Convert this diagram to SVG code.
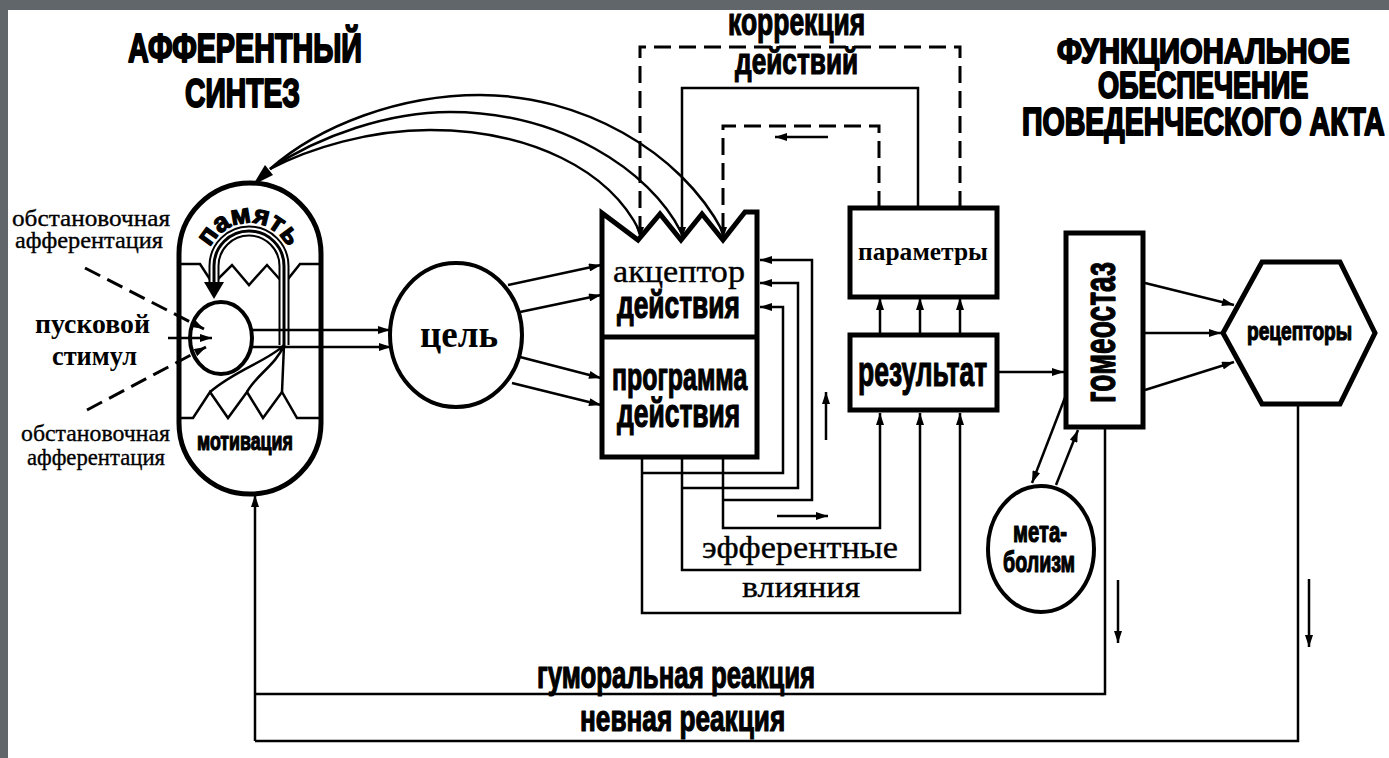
<svg xmlns="http://www.w3.org/2000/svg" width="1389" height="758" viewBox="0 0 1389 758">
<defs>
<style>
.cb{font-family:"Liberation Sans",Arial,sans-serif;font-weight:bold;fill:#000;stroke:#000;stroke-width:1.2;stroke-linejoin:round}
.tt{font-family:"Liberation Sans",Arial,sans-serif;font-weight:bold;fill:#000;stroke:#000;stroke-width:2;stroke-linejoin:round}
.sr{font-family:"Liberation Serif","DejaVu Serif",serif;fill:#000;stroke:#000;stroke-width:0.35}
.sb{font-family:"Liberation Serif","DejaVu Serif",serif;font-weight:bold;fill:#000}
.box{fill:#fff;stroke:#000;stroke-width:5;stroke-linejoin:miter}
.ln{fill:none;stroke:#000;stroke-width:2.5}
.dl{fill:none;stroke:#000;stroke-width:3;stroke-dasharray:17 8}
.ar{marker-end:url(#ah)}
</style>
<marker id="ah" viewBox="0 0 12 8" refX="12" refY="4" markerWidth="13" markerHeight="8" markerUnits="userSpaceOnUse" orient="auto">
<path d="M0,0 L12,4 L0,8 Z" fill="#000"/>
</marker>
</defs>
<rect x="0" y="0" width="1389" height="758" fill="#61666a"/>
<rect x="8" y="10" width="1381" height="748" fill="#fff"/>

<g id="titles">
<text class="tt" transform="translate(128,62) scale(0.72,1)" font-size="40" textLength="325" lengthAdjust="spacingAndGlyphs">АФФЕРЕНТНЫЙ</text>
<text class="tt" transform="translate(185,107) scale(0.71,1)" font-size="40" textLength="162" lengthAdjust="spacingAndGlyphs">СИНТЕЗ</text>
<text class="tt" transform="translate(1057,63) scale(0.8,1)" font-size="36" textLength="366" lengthAdjust="spacingAndGlyphs">ФУНКЦИОНАЛЬНОЕ</text>
<text class="tt" transform="translate(1098,98) scale(0.73,1)" font-size="36" textLength="288" lengthAdjust="spacingAndGlyphs">ОБЕСПЕЧЕНИЕ</text>
<text class="tt" transform="translate(1022,135) scale(0.74,1)" font-size="38" textLength="490" lengthAdjust="spacingAndGlyphs">ПОВЕДЕНЧЕСКОГО АКТА</text>
</g>

<g id="labels">
<text class="sr" x="12" y="226" font-size="23" textLength="158" lengthAdjust="spacingAndGlyphs">обстановочная</text>
<text class="sr" x="15" y="248" font-size="23" textLength="148" lengthAdjust="spacingAndGlyphs">афферентация</text>
<text class="sb" x="35" y="333" font-size="27" textLength="115" lengthAdjust="spacingAndGlyphs">пусковой</text>
<text class="sb" x="52" y="365" font-size="27" textLength="85" lengthAdjust="spacingAndGlyphs">стимул</text>
<text class="sr" x="21" y="441" font-size="23" textLength="149" lengthAdjust="spacingAndGlyphs">обстановочная</text>
<text class="sr" x="27" y="465" font-size="23" textLength="138" lengthAdjust="spacingAndGlyphs">афферентация</text>
<text class="cb" transform="translate(728,35) scale(0.69,1)" font-size="38" textLength="199" lengthAdjust="spacingAndGlyphs">коррекция</text>
<text class="cb" transform="translate(735,74) scale(0.72,1)" font-size="37" textLength="171" lengthAdjust="spacingAndGlyphs">действий</text>
<text class="sr" x="702" y="558" font-size="32" textLength="196" lengthAdjust="spacingAndGlyphs">эфферентные</text>
<text class="sr" x="742" y="597" font-size="30" textLength="118" lengthAdjust="spacingAndGlyphs">влияния</text>
<text class="cb" transform="translate(537,688) scale(0.68,1)" font-size="38" textLength="409" lengthAdjust="spacingAndGlyphs">гуморальная реакция</text>
<text class="cb" transform="translate(580,731) scale(0.71,1)" font-size="37" textLength="289" lengthAdjust="spacingAndGlyphs">невная реакция</text>
</g>

<g id="afferent-synthesis">
<path class="box" stroke-width="4" d="M179,254 A71,71 0 0 1 321,254 L321,423 A71,71 0 0 1 179,423 Z"/>
<path class="ln" d="M180,264 L200,264 L213,284 L232,265 L249,285 L267,265 L284,284 L300,264 L321,264"/>
<path class="ln" d="M180,418 L193,418 L210,392 L228,418 L247,392 L263,418 L282,392 L297,418 L321,418"/>
<ellipse cx="221" cy="338" rx="31" ry="36" fill="#fff" stroke="#000" stroke-width="4"/>
<path d="M214,284 L214,266 A35,35 0 0 1 284,266 L284,345" fill="none" stroke="#000" stroke-width="11"/>
<path d="M214,286 L214,266 A35,35 0 0 1 284,266 L284,346" fill="none" stroke="#fff" stroke-width="7"/>
<path d="M214,286 L214,266 A35,35 0 0 1 284,266 L284,346" fill="none" stroke="#000" stroke-width="3"/>
<polygon points="204,282 224,282 214,299" fill="#000"/>
<path class="ln" d="M284,345 C270,360 235,370 210,392 M284,345 C276,365 256,375 247,392 M284,345 L282,392"/>
<path id="pamArc" d="M206,266 A43,43 0 0 1 292,266" fill="none"/>
<text class="cb" font-size="27"><textPath href="#pamArc" startOffset="50%" text-anchor="middle">память</textPath></text>
<text class="cb" transform="translate(197,450) scale(0.72,1)" font-size="25" textLength="133" lengthAdjust="spacingAndGlyphs">мотивация</text>
</g>

<g id="goal">
<ellipse cx="456" cy="335" rx="66" ry="72" fill="#fff" stroke="#000" stroke-width="4"/>
<text class="sb" x="420" y="347" font-size="38" textLength="78" lengthAdjust="spacingAndGlyphs">цель</text>
</g>

<g id="acceptor-program">
<path class="box" d="M602,213 L638,240 L660,214 L681,240 L702,214 L723,240 L745,212 L757,212 L757,457 L602,457 Z"/>
<line x1="602" y1="337" x2="757" y2="337" stroke="#000" stroke-width="5"/>
<text class="sr" x="613" y="282" font-size="31" stroke-width="0.7" textLength="132" lengthAdjust="spacingAndGlyphs">акцептор</text>
<text class="cb" transform="translate(617,318) scale(0.71,1)" font-size="38" textLength="173" lengthAdjust="spacingAndGlyphs">действия</text>
<text class="cb" transform="translate(612,390) scale(0.66,1)" font-size="38" textLength="205" lengthAdjust="spacingAndGlyphs">программа</text>
<text class="cb" transform="translate(617,427) scale(0.67,1)" font-size="40" textLength="184" lengthAdjust="spacingAndGlyphs">действия</text>
</g>

<g id="parameters">
<rect class="box" x="850" y="208" width="147" height="89"/>
<text class="sb" x="858" y="260" font-size="26" textLength="130" lengthAdjust="spacingAndGlyphs">параметры</text>
</g>

<g id="result">
<rect class="box" x="850" y="335" width="147" height="75"/>
<text class="cb" transform="translate(858,386) scale(0.63,1)" font-size="42" textLength="205" lengthAdjust="spacingAndGlyphs">результат</text>
</g>

<g id="homeostasis">
<rect class="box" x="1066" y="233" width="77" height="194"/>
<text class="cb" transform="translate(1115,403) rotate(-90) scale(0.65,1)" x="0" y="0" font-size="44" textLength="217" lengthAdjust="spacingAndGlyphs">гомеостаз</text>
</g>

<g id="receptors">
<polygon class="box" points="1223,333 1262,262 1340,262 1375,333 1340,404 1262,404"/>
<text class="cb" transform="translate(1247,340) scale(0.74,1)" font-size="26" textLength="142" lengthAdjust="spacingAndGlyphs">рецепторы</text>
</g>

<g id="metabolism">
<ellipse cx="1041" cy="549" rx="53" ry="63" fill="#fff" stroke="#000" stroke-width="4"/>
<text class="cb" transform="translate(1013,542) scale(0.71,1)" font-size="29" textLength="76" lengthAdjust="spacingAndGlyphs">мета-</text>
<text class="cb" transform="translate(1003,572) scale(0.68,1)" font-size="29" textLength="106" lengthAdjust="spacingAndGlyphs">болизм</text>
</g>

<g id="connectors">
<path class="ln ar" d="M251,330 L390,330"/>
<path class="ln ar" d="M251,347 L391,347"/>
<path class="dl ar" d="M85,268 L204,329"/>
<path class="dl ar" d="M87,410 L206,347"/>
<path class="ln ar" d="M168,338 L212,338"/>
<path class="ln ar" d="M508,285 L601,265"/>
<path class="ln ar" d="M520,312 L601,295"/>
<path class="ln ar" d="M520,357 L601,378"/>
<path class="ln ar" d="M512,383 L601,405"/>
<path class="ln" d="M270,169 C320,125 400,95 480,95 C580,95 680,150 723,232"/>
<path class="ln" d="M270,169 C320,135 390,112 450,112 C560,112 650,170 681,232"/>
<path class="ln" d="M270,169 C310,148 370,130 430,130 C530,130 610,170 640,232"/>
<polygon points="253,185 273,175 265,165" fill="#000"/>
<path class="dl ar" d="M960,208 L960,47 L640,47 L640,239"/>
<path class="ln ar" d="M918,208 L918,88 L682,88 L682,239"/>
<path class="dl ar" d="M879,208 L879,126 L723,126 L723,239"/>
<path class="ln ar" d="M828,137 L775,137"/>
<path class="ln ar" d="M880,335 L880,298"/>
<path class="ln ar" d="M920,335 L920,298"/>
<path class="ln ar" d="M960,335 L960,298"/>
<path class="ln ar" d="M642,457 L642,613 L960,613 L960,413"/>
<path class="ln ar" d="M682,457 L682,570 L920,570 L920,413"/>
<path class="ln ar" d="M723,457 L723,528 L880,528 L880,413"/>
<path class="ln ar" d="M642,473 L783,473 L783,307 L760,307"/>
<path class="ln ar" d="M682,488 L798,488 L798,283 L760,283"/>
<path class="ln ar" d="M723,500 L812,500 L812,260 L760,260"/>
<path class="ln ar" d="M777,516 L828,516"/>
<path class="ln ar" d="M826,440 L826,392"/>
<path class="ln ar" d="M998,372 L1064,372"/>
<path class="ln ar" d="M1145,283 L1234,305"/>
<path class="ln ar" d="M1145,333 L1221,333"/>
<path class="ln ar" d="M1145,390 L1234,362"/>
<path class="ln ar" d="M1066,395 L1032,483"/>
<path class="ln ar" d="M1056,485 L1078,430"/>
<path class="ln" d="M1105,429 L1105,694 L255,694"/>
<path class="ln" d="M1298,406 L1298,741 L255,741"/>
<path class="ln ar" d="M255,741 L255,495"/>
<path class="ln ar" d="M1118,580 L1118,643"/>
<path class="ln ar" d="M1309,579 L1309,647"/>
</g>
</svg>
